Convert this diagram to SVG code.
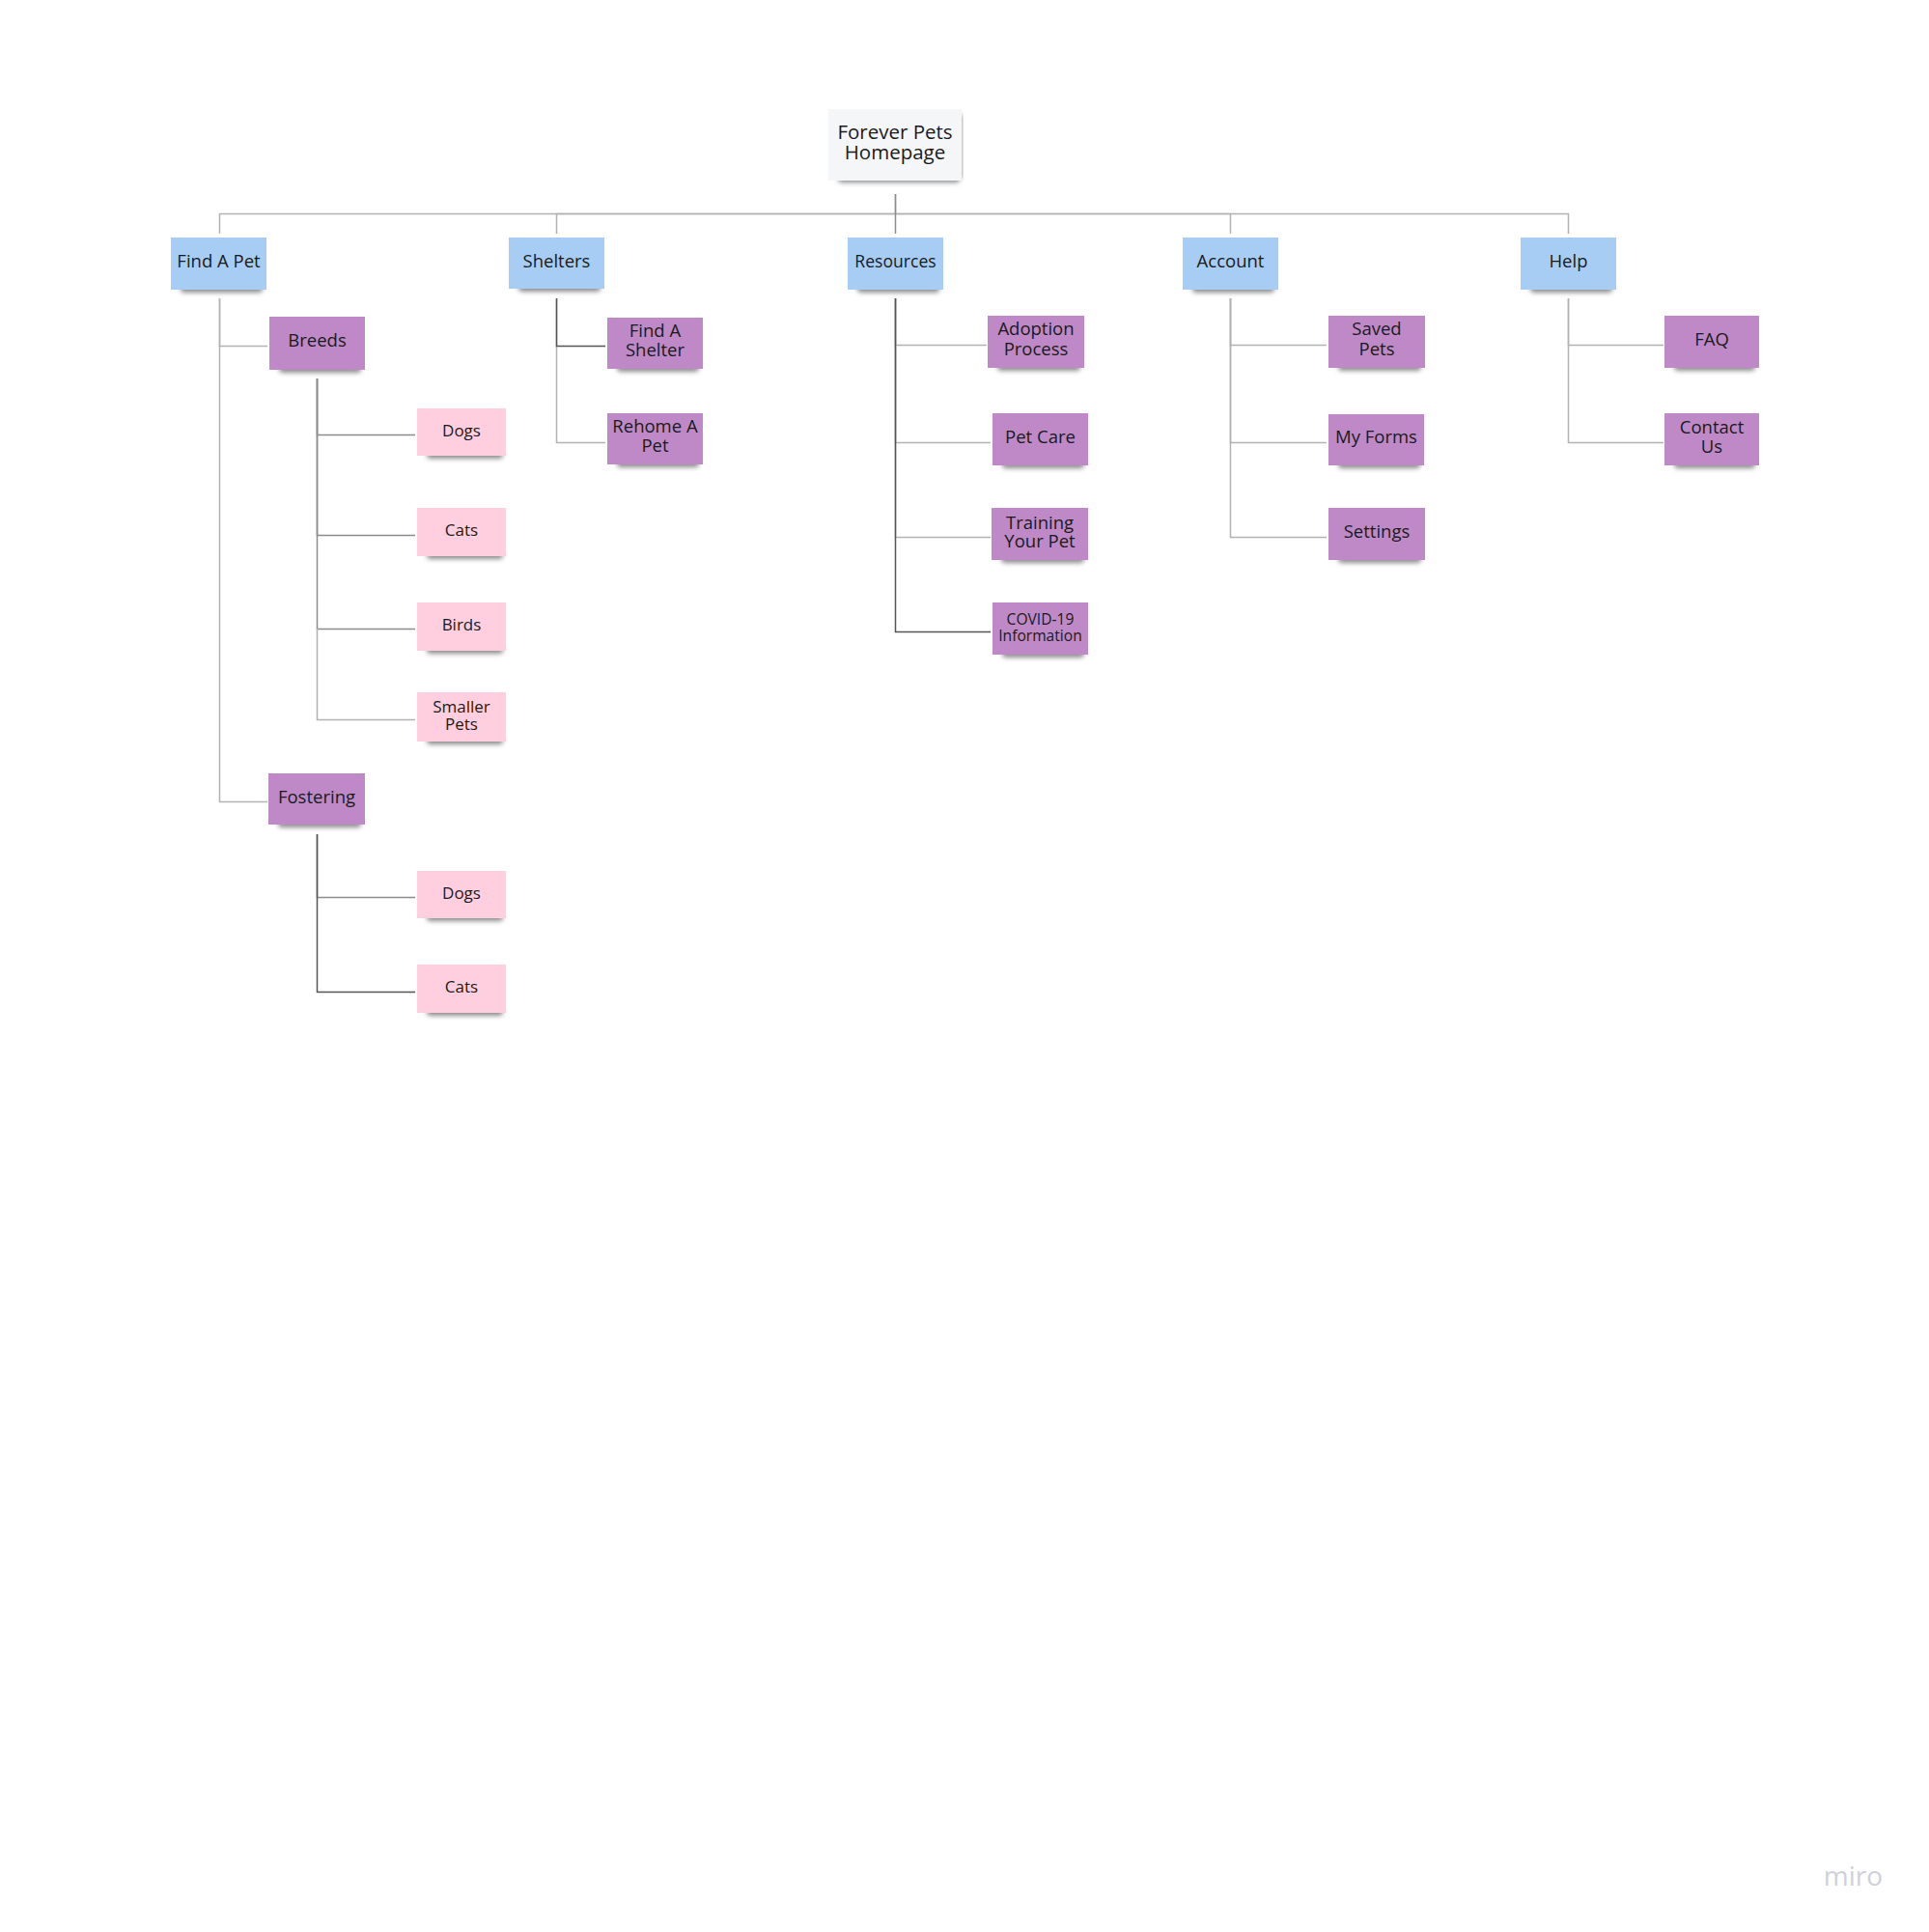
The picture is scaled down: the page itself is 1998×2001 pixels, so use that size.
<svg xmlns="http://www.w3.org/2000/svg" width="1998" height="2001" viewBox="0 0 1998 2001">
<style>
text{font-family:"Open Sans","Noto Sans","Liberation Sans",sans-serif;fill:#1a1a1a;text-anchor:middle}
.t1{font-size:18.5px}
.tp{font-size:17px}
.blue{fill:#a7cdf5}
.purple{fill:#bf89c8}
.pink{fill:#ffcfe0}
.gray{fill:#f5f6f8}
.sh{fill:#000;fill-opacity:.45}
.e{fill:none;stroke-width:1.5}
.lt{stroke:#b2b2b2}
.md{stroke:#8c8c8c}
.dk{stroke:#555}
</style>
<defs>
<filter id="blur" x="-20%" y="-200%" width="140%" height="500%"><feGaussianBlur stdDeviation="2.5"/></filter>
</defs>
<rect width="1998" height="2001" fill="#fff"/>
<g id="connectors">
<path class="e lt" d="M927.5,201V221.5H227.5V242"/>
<path class="e lt" d="M927.5,221.5H576.5V242"/>
<path class="e lt" d="M927.5,221.5H1274.5V242"/>
<path class="e lt" d="M927.5,221.5H1624.5V242"/>
<path class="e md" d="M927.5,201V242"/>
<path class="e lt" d="M227.5,309V358.5H277"/>
<path class="e lt" d="M227.5,309V830.5H277"/>
<path class="e md" d="M328.5,392V450.5H430"/>
<path class="e md" d="M328.5,392V554.5H430"/>
<path class="e md" d="M328.5,392V651.5H430"/>
<path class="e lt" d="M328.5,651V745.5H430"/>
<path class="e md" d="M328.5,864V929.5H430"/>
<path class="e dk" d="M328.5,864V929"/>
<path class="e dk" d="M328.5,929V1027.5H430"/>
<path class="e lt" d="M576.5,309V458.5H627"/>
<path class="e dk" d="M576.5,309V358.5H627"/>
<path class="e lt" d="M927.5,309V357.5H1022"/>
<path class="e lt" d="M927.5,309V458.5H1026"/>
<path class="e lt" d="M927.5,309V556.5H1026"/>
<path class="e dk" d="M927.5,309V654.5H1026"/>
<path class="e lt" d="M1274.5,309V357.5H1374"/>
<path class="e lt" d="M1274.5,309V458.5H1374"/>
<path class="e lt" d="M1274.5,309V556.5H1374"/>
<path class="e lt" d="M1624.5,309V357.5H1723"/>
<path class="e lt" d="M1624.5,309V458.5H1723"/>
</g>
<g id="root">
<rect class="sh" x="868" y="180" width="126" height="9" rx="4" filter="url(#blur)"/>
<rect class="sh" x="990" y="118" width="6" height="66" rx="3" filter="url(#blur)" fill-opacity=".12"/>
<rect class="gray" x="858" y="113" width="138" height="74"/>
<text x="927" y="143.5" font-size="20.5">Forever Pets</text>
<text x="927" y="165" font-size="20.5">Homepage</text>
</g>
<g id="find-a-pet">
<rect class="sh" x="187" y="294" width="85" height="9" rx="4" filter="url(#blur)"/>
<rect class="blue" x="177" y="246" width="99" height="54"/>
<text class="t1" x="226.5" y="277.3">Find A Pet</text>
</g>
<g id="shelters">
<rect class="sh" x="537" y="293" width="85" height="9" rx="4" filter="url(#blur)"/>
<rect class="blue" x="527" y="246" width="99" height="53"/>
<text class="t1" x="576.5" y="276.7">Shelters</text>
</g>
<g id="resources">
<rect class="sh" x="888" y="294" width="85" height="9" rx="4" filter="url(#blur)"/>
<rect class="blue" x="878" y="246" width="99" height="54"/>
<text x="927.5" y="276.7" font-size="17.6">Resources</text>
</g>
<g id="account">
<rect class="sh" x="1235" y="294" width="85" height="9" rx="4" filter="url(#blur)"/>
<rect class="blue" x="1225" y="246" width="99" height="54"/>
<text class="t1" x="1274.5" y="277.3">Account</text>
</g>
<g id="help">
<rect class="sh" x="1585" y="294" width="85" height="9" rx="4" filter="url(#blur)"/>
<rect class="blue" x="1575" y="246" width="99" height="54"/>
<text class="t1" x="1624.5" y="277.3">Help</text>
</g>
<g id="breeds">
<rect class="sh" x="289" y="377" width="85" height="9" rx="4" filter="url(#blur)"/>
<rect class="purple" x="279" y="328" width="99" height="55"/>
<text class="t1" x="328.5" y="359.3">Breeds</text>
</g>
<g id="fostering">
<rect class="sh" x="288" y="848" width="86" height="9" rx="4" filter="url(#blur)"/>
<rect class="purple" x="278" y="801" width="100" height="53"/>
<text class="t1" x="328" y="831.7">Fostering</text>
</g>
<g id="breeds-dogs">
<rect class="sh" x="442" y="466" width="79" height="9" rx="4" filter="url(#blur)"/>
<rect class="pink" x="432" y="423" width="92" height="49"/>
<text class="tp" x="478" y="451.7">Dogs</text>
</g>
<g id="breeds-cats">
<rect class="sh" x="442" y="570" width="79" height="9" rx="4" filter="url(#blur)"/>
<rect class="pink" x="432" y="526" width="92" height="50"/>
<text class="tp" x="478" y="555">Cats</text>
</g>
<g id="breeds-birds">
<rect class="sh" x="442" y="668" width="79" height="9" rx="4" filter="url(#blur)"/>
<rect class="pink" x="432" y="624" width="92" height="50"/>
<text class="tp" x="478" y="653.3">Birds</text>
</g>
<g id="breeds-smaller-pets">
<rect class="sh" x="442" y="762" width="79" height="9" rx="4" filter="url(#blur)"/>
<rect class="pink" x="432" y="717" width="92" height="51"/>
<text class="tp" x="478" y="737.7">Smaller</text>
<text class="tp" x="478" y="756">Pets</text>
</g>
<g id="fostering-dogs">
<rect class="sh" x="442" y="945" width="79" height="9" rx="4" filter="url(#blur)"/>
<rect class="pink" x="432" y="902" width="92" height="49"/>
<text class="tp" x="478" y="930.7">Dogs</text>
</g>
<g id="fostering-cats">
<rect class="sh" x="442" y="1043" width="79" height="9" rx="4" filter="url(#blur)"/>
<rect class="pink" x="432" y="999" width="92" height="50"/>
<text class="tp" x="478" y="1027.7">Cats</text>
</g>
<g id="find-a-shelter">
<rect class="sh" x="639" y="376" width="85" height="9" rx="4" filter="url(#blur)"/>
<rect class="purple" x="629" y="329" width="99" height="53"/>
<text class="t1" x="678.5" y="349.3">Find A</text>
<text class="t1" x="678.5" y="369.3">Shelter</text>
</g>
<g id="rehome-a-pet">
<rect class="sh" x="639" y="475" width="85" height="9" rx="4" filter="url(#blur)"/>
<rect class="purple" x="629" y="428" width="99" height="53"/>
<text class="t1" x="678.5" y="448.3">Rehome A</text>
<text class="t1" x="678.5" y="468.3">Pet</text>
</g>
<g id="adoption-process">
<rect class="sh" x="1033" y="375" width="86" height="9" rx="4" filter="url(#blur)"/>
<rect class="purple" x="1023" y="327" width="100" height="54"/>
<text class="t1" x="1073" y="347.3">Adoption</text>
<text class="t1" x="1073" y="367.7">Process</text>
</g>
<g id="pet-care">
<rect class="sh" x="1038" y="476" width="85" height="9" rx="4" filter="url(#blur)"/>
<rect class="purple" x="1028" y="428" width="99" height="54"/>
<text class="t1" x="1077.5" y="459.3">Pet Care</text>
</g>
<g id="training-your-pet">
<rect class="sh" x="1037" y="574" width="86" height="9" rx="4" filter="url(#blur)"/>
<rect class="purple" x="1027" y="526" width="100" height="54"/>
<text class="t1" x="1077" y="547.7">Training</text>
<text class="t1" x="1077" y="567.3">Your Pet</text>
</g>
<g id="covid-19-information">
<rect class="sh" x="1038" y="672" width="85" height="9" rx="4" filter="url(#blur)"/>
<rect class="purple" x="1028" y="624" width="99" height="54"/>
<text x="1077.5" y="646.7" font-size="15.6">COVID-19</text>
<text x="1077.5" y="663.5" font-size="15.6">Information</text>
</g>
<g id="saved-pets">
<rect class="sh" x="1386" y="375" width="86" height="9" rx="4" filter="url(#blur)"/>
<rect class="purple" x="1376" y="327" width="100" height="54"/>
<text class="t1" x="1426" y="347.3">Saved</text>
<text class="t1" x="1426" y="367.7">Pets</text>
</g>
<g id="my-forms">
<rect class="sh" x="1386" y="476" width="85" height="9" rx="4" filter="url(#blur)"/>
<rect class="purple" x="1376" y="429" width="99" height="53"/>
<text class="t1" x="1425.5" y="459.3">My Forms</text>
</g>
<g id="settings">
<rect class="sh" x="1386" y="574" width="86" height="9" rx="4" filter="url(#blur)"/>
<rect class="purple" x="1376" y="526" width="100" height="54"/>
<text class="t1" x="1426" y="557.3">Settings</text>
</g>
<g id="faq">
<rect class="sh" x="1734" y="375" width="84" height="9" rx="4" filter="url(#blur)"/>
<rect class="purple" x="1724" y="327" width="98" height="54"/>
<text class="t1" x="1773" y="358.3">FAQ</text>
</g>
<g id="contact-us">
<rect class="sh" x="1734" y="476" width="84" height="9" rx="4" filter="url(#blur)"/>
<rect class="purple" x="1724" y="428" width="98" height="54"/>
<text class="t1" x="1773" y="449">Contact</text>
<text class="t1" x="1773" y="469">Us</text>
</g>
<text x="1919.5" y="1953" font-size="28" style="fill:#cfd0dc" font-family="Open Sans, sans-serif">miro</text>
</svg>
